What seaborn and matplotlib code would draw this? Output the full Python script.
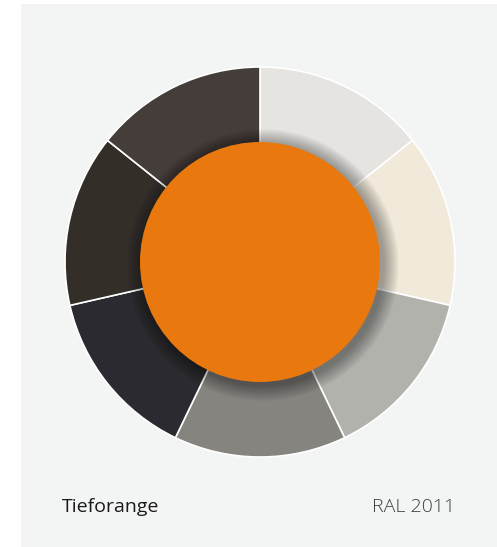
import numpy as np
import matplotlib.pyplot as plt
import seaborn as sns
from matplotlib.patches import Circle, Rectangle

# colour harmony for RAL 2011, segments clockwise from 12 o'clock
segment_names = ["light grey", "cream", "grey", "stone grey", "graphite", "dark brown", "umber"]
segment_share = [1, 1, 1, 1, 1, 1, 1]
segment_colors = ["#e5e4e0", "#f1eadb", "#b1b2ac", "#86847f", "#2b2a30", "#342e29", "#443d3a"]
center_color = "#e9780f"
color_name = "Tieforange"
color_code = "RAL 2011"

sns.set_theme(style="white")
plt.rcParams['font.family'] = ['Open Sans', 'DejaVu Sans']

W, H = 497, 547
fig = plt.figure(figsize=(W / 100, H / 100), dpi=100)
# card colour fills the figure, white margin on the left and top
fig.patch.set_facecolor("#f3f5f4")
fig.patches.append(Rectangle((0, 0), 21 / W, 1, transform=fig.transFigure,
                             facecolor="white", edgecolor="none"))
fig.patches.append(Rectangle((0, 1 - 4 / H), 1, 4 / H, transform=fig.transFigure,
                             facecolor="white", edgecolor="none"))

R = 195
cx, cy = 260, 262
ax = fig.add_axes([(cx - R) / W, (H - cy - R) / H, 2 * R / W, 2 * R / H])
ax.set_facecolor("none")
ax.pie(segment_share, colors=segment_colors, startangle=90, counterclock=False,
       radius=1.0, wedgeprops=dict(edgecolor="white", linewidth=1.2))

# soft drop shadow behind the centre disc
r_in = 120 / R
px = 1 / R
for i in range(16):
    ax.add_patch(Circle((3 * px, -3 * px), r_in + (16 - i) * px,
                        facecolor="black", alpha=0.025, edgecolor="none", zorder=3))
ax.add_patch(Circle((0, 0), r_in, facecolor=center_color, edgecolor="none", zorder=4))
ax.set_xlim(-1, 1)
ax.set_ylim(-1, 1)
ax.set_aspect("equal")
ax.axis("off")

fig.text(62 / W, 1 - 507 / H, color_name, fontsize=14, color="#1a1a1a",
         ha="left", va="center")
fig.text(455 / W, 1 - 507 / H, color_code, fontsize=14, color="#404040",
         ha="right", va="center", fontweight="light")

fig.savefig("out.png", dpi=100, facecolor=fig.get_facecolor())
